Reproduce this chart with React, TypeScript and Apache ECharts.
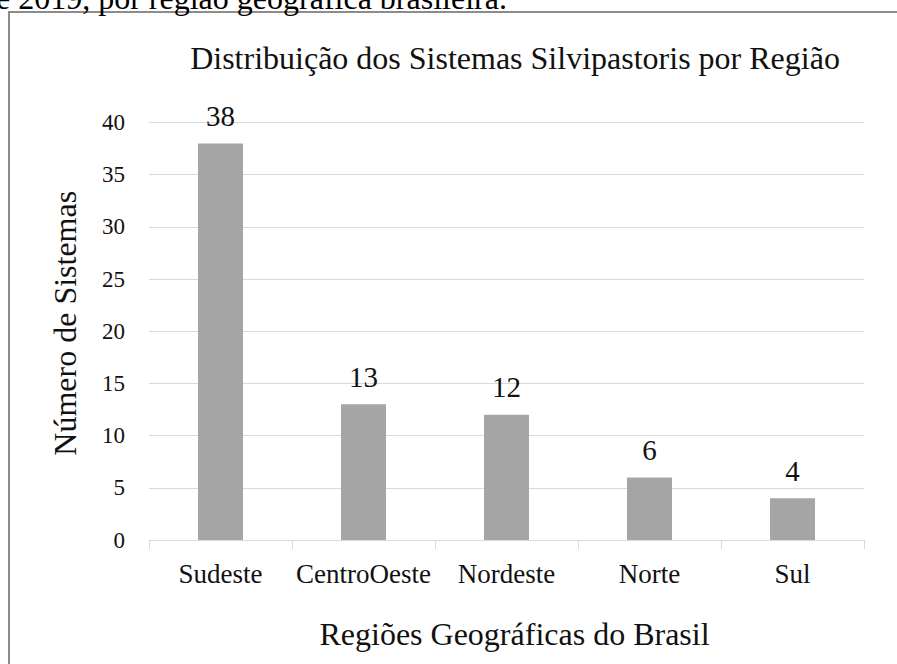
import React, { useEffect, useRef } from "react";
import * as echarts from "echarts";

const categories = ["Sudeste", "CentroOeste", "Nordeste", "Norte", "Sul"];
const values = [38, 13, 12, 6, 4];
const yTicks = { min: 0, max: 40, interval: 5 };
const titleText = "Distribuição dos Sistemas Silvipastoris por Região";
const yName = "Número de Sistemas";
const xName = "Regiões Geográficas do Brasil";
const captionText = "e 2019, por região geográfica brasileira.";

const FONT = "Liberation Serif";

export default function App() {
  const ref = useRef<HTMLDivElement>(null);
  useEffect(() => {
    if (!ref.current) return;
    const chart = echarts.init(ref.current, undefined, { renderer: "svg" });
    chart.setOption({
      animation: false,
      backgroundColor: "#ffffff",
      textStyle: { fontFamily: FONT, color: "#000" },
      title: {
        text: titleText,
        left: 510,
        top: 37,
        textAlign: "center",
        textStyle: { fontFamily: FONT, fontSize: 32, fontWeight: "normal", color: "#111" },
      },
      graphic: [
        {
          type: "rect",
          shape: { x: 9, y: 12, width: 1000, height: 800 },
          style: { fill: "none", stroke: "#8c8c8c", lineWidth: 2 },
          silent: true,
        },
        {
          type: "text",
          x: -4,
          y: -2,
          style: {
            text: captionText,
            fontFamily: FONT,
            fontSize: 32,
            fill: "#000",
            verticalAlign: "middle",
            align: "left",
          },
          silent: true,
        },
      ],
      grid: { left: 149, right: 33, top: 122.5, bottom: 124, containLabel: false },
      xAxis: {
        type: "category",
        data: categories,
        name: xName,
        nameLocation: "middle",
        nameGap: 78,
        nameTextStyle: { fontFamily: FONT, fontSize: 32, color: "#111", padding: [0, 0, 0, 16] },
        axisLine: { lineStyle: { color: "#d9d9d9", width: 1 } },
        axisTick: { show: true, length: 9, lineStyle: { color: "#d9d9d9" } },
        axisLabel: { interval: 0, fontFamily: FONT, fontSize: 27, color: "#111", margin: 20 },
      },
      yAxis: {
        type: "value",
        min: yTicks.min,
        max: yTicks.max,
        interval: yTicks.interval,
        name: yName,
        nameLocation: "middle",
        nameGap: 68,
        nameTextStyle: { fontFamily: FONT, fontSize: 32, color: "#111", padding: [0, 0, 0, 16] },
        axisLine: { show: false },
        axisTick: { show: false },
        axisLabel: { fontFamily: FONT, fontSize: 23, color: "#111", margin: 24 },
        splitLine: { lineStyle: { color: "#d9d9d9", width: 1 } },
      },
      series: [
        {
          type: "bar",
          data: values,
          barWidth: 45,
          itemStyle: { color: "#a5a5a5" },
          label: {
            show: true,
            position: "top",
            distance: 13,
            fontFamily: FONT,
            fontSize: 29,
            color: "#111",
          },
        },
      ],
    });
    return () => chart.dispose();
  }, []);
  return (
    <div
      ref={ref}
      style={{ position: "fixed", left: 0, top: 0, width: 897, height: 664, background: "#fff" }}
    />
  );
}
